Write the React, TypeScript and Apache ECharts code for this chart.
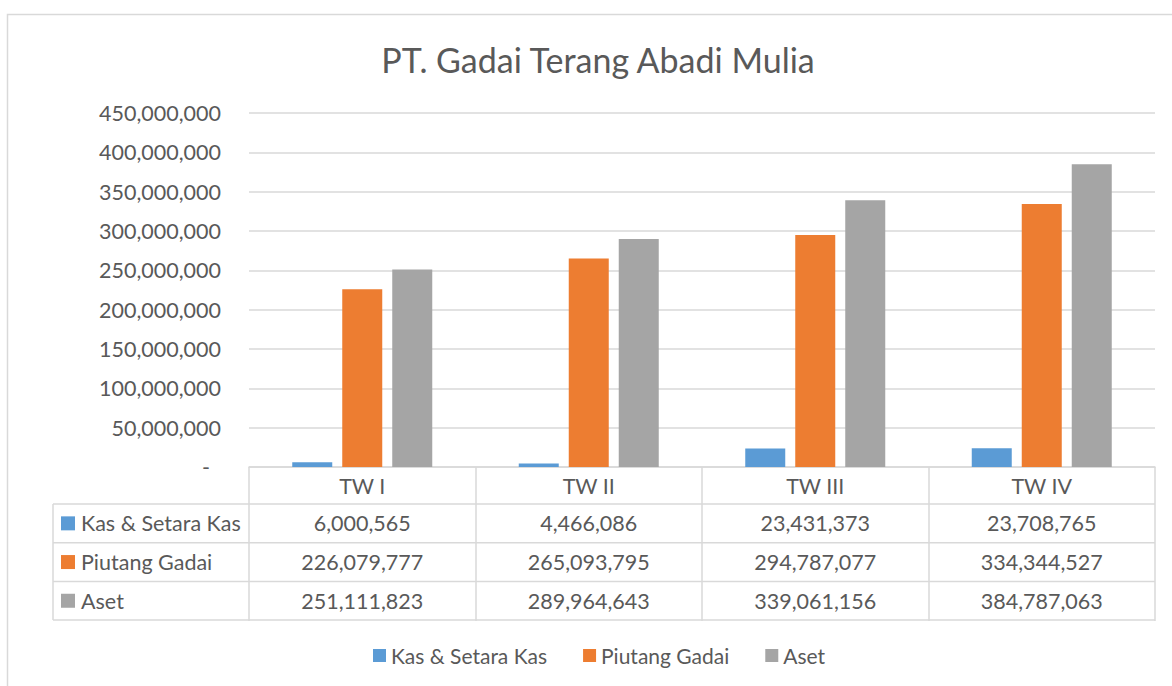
import React, { useEffect, useRef } from "react";
import * as echarts from "echarts";

const categories = ["TW I", "TW II", "TW III", "TW IV"];
const seriesNames = ["Kas & Setara Kas", "Piutang Gadai", "Aset"];
const kasValues = [6000565, 4466086, 23431373, 23708765];
const piutangValues = [226079777, 265093795, 294787077, 334344527];
const asetValues = [251111823, 289964643, 339061156, 384787063];
const colors = ["#5B9BD5", "#ED7D31", "#A5A5A5"];

const FONT = "Lato, 'Open Sans', sans-serif";
const TEXT = "#595959";
const LINE = "#D9D9D9";
const FS = 21.5;

const fmt = (v: number) => v.toLocaleString("en-US");

export default function App() {
  const ref = useRef<HTMLDivElement>(null);
  useEffect(() => {
    if (!ref.current) return;
    const chart = echarts.init(ref.current, undefined, { renderer: "svg" });
    const W = 1172;
    const gridLeft = 249;
    const gridRight = 17;
    const gridTop = 113;
    const axisY = 467;
    const rowH = 38.7;
    const headerH = 37;
    const tableLeft = 53;
    const tableRight = W - gridRight;
    const allValues = [kasValues, piutangValues, asetValues];

    chart.setOption({
      animation: false,
      textStyle: { fontFamily: FONT },
      title: {
        text: "PT. Gadai Terang Abadi Mulia",
        left: 593,
        textAlign: "center",
        top: 37,
        textStyle: { fontFamily: FONT, fontSize: 34, fontWeight: "normal", color: TEXT },
      },
      legend: {
        left: 373,
        top: 645,
        padding: 0,
        icon: "rect",
        itemWidth: 13,
        itemHeight: 13,
        itemGap: 36,
        textStyle: { fontFamily: FONT, fontSize: 21, color: TEXT },
        data: seriesNames,
      },
      grid: { left: gridLeft, right: gridRight, top: gridTop, bottom: 686 - axisY, containLabel: false },
      xAxis: {
        type: "category",
        data: categories,
        axisLine: { show: true, lineStyle: { color: LINE, width: 1.5 } },
        axisTick: { show: true, length: headerH + rowH * 3 + 1, lineStyle: { color: LINE, width: 1.5 } },
        axisLabel: {
          margin: 19,
          verticalAlign: "middle",
          fontFamily: FONT,
          fontSize: FS,
          color: TEXT,
        },
      },
      yAxis: {
        type: "value",
        min: 0,
        max: 450000000,
        interval: 50000000,
        axisLine: { show: false },
        axisTick: { show: false },
        splitLine: { lineStyle: { color: LINE, width: 1.5 } },
        axisLabel: {
          margin: 28,
          fontFamily: FONT,
          fontSize: FS,
          color: TEXT,
          formatter: (v: number) => (v === 0 ? "{d|-}" : fmt(v)),
          rich: { d: { fontFamily: FONT, fontSize: FS, color: TEXT, padding: [0, 11, 0, 0] } },
        },
      },
      series: seriesNames.map((name, i) => ({
        name,
        type: "bar",
        data: allValues[i],
        barWidth: 40,
        barGap: "25%",
        itemStyle: { color: colors[i] },
      })),
    });

    const graphic: any[] = [];
    graphic.push({
      type: "rect",
      shape: { x: 7.5, y: 14.5, width: 1300, height: 800 },
      style: { fill: "none", stroke: LINE, lineWidth: 1.5 },
      silent: true,
    });
    const rowTop = axisY + headerH;
    for (let r = 0; r <= 3; r++) {
      const y = rowTop + r * rowH;
      graphic.push({
        type: "line",
        shape: { x1: tableLeft, y1: y, x2: tableRight, y2: y },
        style: { stroke: LINE, lineWidth: 1.5 },
      });
    }
    graphic.push({
      type: "line",
      shape: { x1: tableLeft, y1: rowTop, x2: tableLeft, y2: rowTop + 3 * rowH },
      style: { stroke: LINE, lineWidth: 1.5 },
    });
    seriesNames.forEach((name, r) => {
      const cy = rowTop + (r + 0.5) * rowH;
      graphic.push({
        type: "rect",
        shape: { x: 61, y: cy - 7, width: 14, height: 14 },
        style: { fill: colors[r] },
      });
      graphic.push({
        type: "text",
        x: 81,
        y: cy,
        style: { text: name, fontFamily: FONT, fontSize: FS, fill: TEXT, align: "left", verticalAlign: "middle" },
      });
      categories.forEach((c, ci) => {
        const px = chart.convertToPixel({ xAxisIndex: 0 }, c) as number;
        graphic.push({
          type: "text",
          x: px,
          y: cy,
          style: {
            text: fmt(allValues[r][ci]),
            fontFamily: FONT,
            fontSize: FS,
            fill: TEXT,
            align: "center",
            verticalAlign: "middle",
          },
        });
      });
    });
    chart.setOption({ graphic });

    return () => chart.dispose();
  }, []);
  return (
    <div
      ref={ref}
      style={{ position: "fixed", left: 0, top: 0, width: 1172, height: 686, background: "#fff" }}
    />
  );
}
